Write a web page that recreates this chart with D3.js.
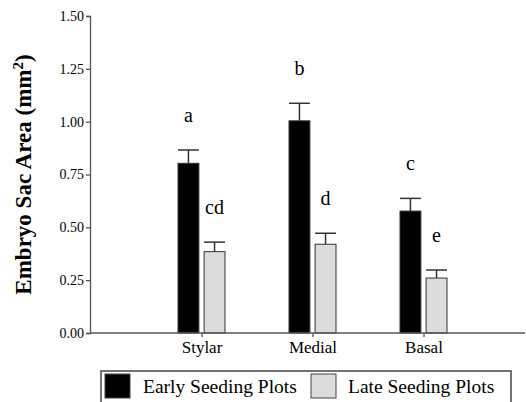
<!DOCTYPE html>
<html>
<head>
<meta charset="utf-8">
<script src="https://cdn.jsdelivr.net/npm/d3@7"></script>
<style>
  body { margin: 0; background: #fff; }
  svg text { font-family: "Liberation Serif", Tinos, "Times New Roman", Times, "DejaVu Serif", serif; fill: #000; }
</style>
</head>
<body>
<svg id="chart" width="526" height="402"></svg>
<script>
// data
const categories = ['Stylar', 'Medial', 'Basal'];
const seriesNames = ['Early Seeding Plots', 'Late Seeding Plots'];
const earlyValues = [0.803, 1.004, 0.577];
const earlyErrors = [0.063, 0.083, 0.060];
const lateValues = [0.385, 0.420, 0.260];
const lateErrors = [0.045, 0.052, 0.038];
const earlyLetters = ['a', 'b', 'c'];
const lateLetters = ['cd', 'd', 'e'];
const yTicks = [0, 0.25, 0.5, 0.75, 1.0, 1.25, 1.5];

const serif = '"Liberation Serif", Tinos, "Times New Roman", Times, "DejaVu Serif", serif';

function drawGroupedBars(graphId) {
    let _width = +document.getElementById(graphId).getAttribute('width'),
        _height = +document.getElementById(graphId).getAttribute('height'),
        margin = { top: 16, right: 1, bottom: 69, left: 90 },
        width = _width - margin.left - margin.right,
        height = _height - margin.top - margin.bottom;

    let svg = d3.select('#' + graphId)
        .append('g')
        .attr('transform', 'translate(' + margin.left + ',' + margin.top + ')');

    let colors = ['#000000', '#dcdcdc'];
    let axisColor = '#555';

    // one row per bar
    let rows = [];
    categories.forEach((c, i) => {
        rows.push({ cat: c, s: 0, v: earlyValues[i], e: earlyErrors[i], lbl: earlyLetters[i] });
        rows.push({ cat: c, s: 1, v: lateValues[i], e: lateErrors[i], lbl: lateLetters[i] });
    });

    // scales
    let xScale = d3.scaleBand()
        .domain(categories)
        .range([56.5, 389.5]);

    let xSub = d3.scaleBand()
        .domain([0, 1])
        .range([-24, 23])
        .paddingInner(0.2);

    let yScale = d3.scaleLinear()
        .domain([0, 1.5])
        .range([height, 0]);

    let cx = d => xScale(d.cat) + xScale.bandwidth() / 2;

    // y axis
    let yAxis = svg.append('g')
        .attr('class', 'y-axis')
        .attr('font-family', serif)
        .call(d3.axisLeft(yScale)
            .tickValues(yTicks)
            .tickSize(4)
            .tickPadding(2)
            .tickFormat(d3.format('.2f')));

    yAxis.attr('font-family', serif);
    yAxis.select('.domain').attr('stroke', axisColor).attr('stroke-width', 1.3);
    yAxis.selectAll('.tick line').attr('stroke', axisColor).attr('stroke-width', 1.3);
    yAxis.selectAll('.tick text')
        .style('font-size', '14px')
        .style('font-family', serif)
        .attr('fill', '#000');

    // x axis
    let xAxis = svg.append('g')
        .attr('class', 'x-axis')
        .attr('transform', 'translate(0,' + height + ')')
        .call(d3.axisBottom(xScale).tickSize(4).tickPadding(4));

    xAxis.attr('font-family', serif);
    xAxis.select('.domain').remove();
    xAxis.selectAll('.tick line').attr('stroke', axisColor).attr('stroke-width', 1.3);
    xAxis.selectAll('.tick text')
        .style('font-size', '17px')
        .style('font-family', serif)
        .attr('fill', '#000');

    // bars
    svg.append('g')
        .selectAll('rect')
        .data(rows)
        .join('rect')
        .attr('x', d => cx(d) + xSub(d.s))
        .attr('y', d => yScale(d.v))
        .attr('width', xSub.bandwidth())
        .attr('height', d => height - yScale(d.v))
        .attr('fill', d => colors[d.s])
        .attr('stroke', '#333')
        .attr('stroke-width', 1);

    // upper error bars
    let err = svg.append('g').selectAll('g')
        .data(rows)
        .join('g')
        .attr('stroke', '#333')
        .attr('stroke-width', 1.5);

    err.append('line')
        .attr('x1', d => cx(d) + xSub(d.s) + xSub.bandwidth() / 2)
        .attr('x2', d => cx(d) + xSub(d.s) + xSub.bandwidth() / 2)
        .attr('y1', d => yScale(d.v))
        .attr('y2', d => yScale(d.v + d.e));

    err.append('line')
        .attr('x1', d => cx(d) + xSub(d.s))
        .attr('x2', d => cx(d) + xSub(d.s) + xSub.bandwidth())
        .attr('y1', d => yScale(d.v + d.e))
        .attr('y2', d => yScale(d.v + d.e));

    // significance letters
    svg.append('g')
        .selectAll('text')
        .data(rows)
        .join('text')
        .attr('x', d => cx(d) + xSub(d.s) + xSub.bandwidth() / 2)
        .attr('y', d => yScale(d.v + d.e) - 28)
        .attr('text-anchor', 'middle')
        .style('font-family', serif)
        .style('font-size', '20px')
        .text(d => d.lbl);

    // baseline across the whole plot
    svg.append('line')
        .attr('x1', 0)
        .attr('x2', width)
        .attr('y1', yScale(0))
        .attr('y2', yScale(0))
        .attr('stroke', axisColor)
        .attr('stroke-width', 1.3);

    // y-axis label
    let label = svg.append('text')
        .attr('transform', 'translate(' + (-59) + ',' + (height / 2) + ') rotate(-90)')
        .attr('text-anchor', 'middle')
        .style('font-family', serif)
        .style('font-size', '23px')
        .style('font-weight', 'bold');
    label.append('tspan').text('Embryo Sac Area (mm');
    label.append('tspan').attr('dy', -8).style('font-size', '15px').text('2');
    label.append('tspan').attr('dy', 8).text(')');

    // legend
    let legend = d3.select('#' + graphId).append('g')
        .attr('transform', 'translate(101,371)');

    legend.append('rect')
        .attr('width', 410)
        .attr('height', 40)
        .attr('fill', 'none')
        .attr('stroke', '#444')
        .attr('stroke-width', 1.5);

    let legendX = [[4, 42], [210, 247]];
    seriesNames.forEach((name, i) => {
        legend.append('rect')
            .attr('x', legendX[i][0])
            .attr('y', 3)
            .attr('width', 25)
            .attr('height', 24)
            .attr('fill', colors[i])
            .attr('stroke', '#444')
            .attr('stroke-width', 1);
        legend.append('text')
            .attr('x', legendX[i][1])
            .attr('y', 22)
            .style('font-family', serif)
            .style('font-size', '19.5px')
            .text(name);
    });
}

drawGroupedBars('chart');
</script>
</body>
</html>
